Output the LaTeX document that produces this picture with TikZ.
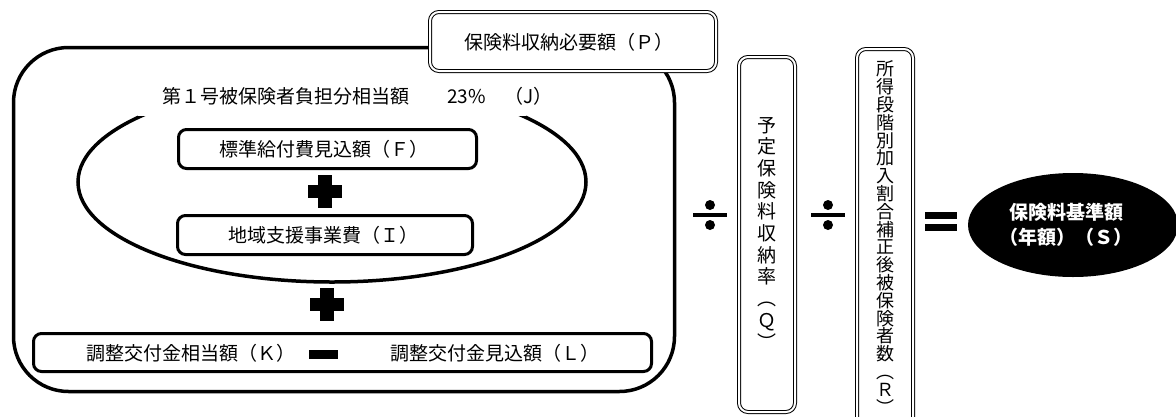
\documentclass[tikz,border=0pt]{standalone}
\usepackage{fontspec}
\setmainfont{Noto Sans CJK JP}
\usetikzlibrary{shapes.geometric}
\newcommand{\tightlines}{\lineskiplimit=-30pt\lineskip=0pt\relax}
\tikzset{
  plussign/.pic={\fill (-17,-6.5) rectangle (17,6.5); \fill (-7,-16.5) rectangle (7,16.5);},
  divsign/.pic={\fill (-17,-2) rectangle (17,2); \fill (0,-10) circle[radius=5]; \fill (0,10) circle[radius=5];}
}
\begin{document}
\begin{tikzpicture}[x=1pt,y=-1pt,
  every node/.style={inner sep=0pt, outer sep=0pt},
  txt/.style={font=\fontsize{19}{22}\selectfont},
  box/.style={draw, line width=3pt, rounded corners=8pt},
  dbox/.style={draw, fill=white, double, double distance=2pt, line width=1pt, rounded corners=9pt},
  vtxtq/.style={align=center, font=\fontsize{19}{21.7}\selectfont\tightlines},
  vtxtr/.style={align=center, font=\fontsize{18}{17.8}\selectfont\tightlines}
]
\useasboundingbox (0,0) rectangle (1176,416);
\clip (0,0) rectangle (1176,416);

% outer rounded frame
\node[draw, line width=3.5pt, rounded corners=55pt, minimum width=661pt, minimum height=344pt] (frame) at (344,219.5) {};

% oval
\node[draw, ellipse, line width=3.5pt, minimum width=508pt, minimum height=200pt] (oval) at (332,182) {};
\fill[white] (138,70) rectangle (526,116);
\node[txt, anchor=west] (J) at (162,96) {第１号被保険者負担分相当額　　23\%　（J）};

% F and I boxes
\node[box, minimum width=298pt, minimum height=39pt] (F) at (327.5,149) {};
\node[txt] (Ftext) at (324,149) {標準給付費見込額（Ｆ）};
\pic at (325,191.5) {plussign};
\node[box, minimum width=295pt, minimum height=39pt] (I) at (325,235) {};
\node[txt] (Itext) at (323,235) {地域支援事業費（Ｉ）};
\pic at (326.5,304.5) {plussign};

% K - L box
\node[box, minimum width=618pt, minimum height=38pt] (KL) at (342.5,352.5) {};
\node[txt, anchor=west] (K) at (86,353) {調整交付金相当額（Ｋ）};
\fill (309,350) rectangle (338,359);
\node[txt, anchor=west] (L) at (390,353) {調整交付金見込額（Ｌ）};

% P box
\node[dbox, minimum width=286pt, minimum height=59pt] (P) at (573,41.5) {};
\node[txt] (Ptext) at (569,42) {保険料収納必要額（Ｐ）};

% divide, Q
\pic at (710,215) {divsign};
\node[dbox, minimum width=56pt, minimum height=355pt] (Q) at (767,234.5) {};
\node[vtxtq] (Qtext) at (767,233) {予\\定\\保\\険\\料\\収\\納\\率\\︵\\Ｑ\\︶};

% divide, R
\pic at (828,215) {divsign};
\node[dbox, minimum width=56pt, minimum height=381pt] (R) at (885,239.5) {};
\node[vtxtr] (Rtext) at (885,237.5) {所\\得\\段\\階\\別\\加\\入\\割\\合\\補\\正\\後\\被\\保\\険\\者\\数\\︵\\Ｒ\\︶};

% equals
\fill (925,212) rectangle (957,219);
\fill (925,224) rectangle (957,231);

% result
\node[ellipse, fill=black, minimum width=210pt, minimum height=104pt] (S) at (1073,225) {};
\node[align=center, text=white, font=\bfseries\fontsize{19}{25}\selectfont] (Stext) at (1066,225) {保険料基準額\\（年額）（Ｓ）};
\end{tikzpicture}
\end{document}
